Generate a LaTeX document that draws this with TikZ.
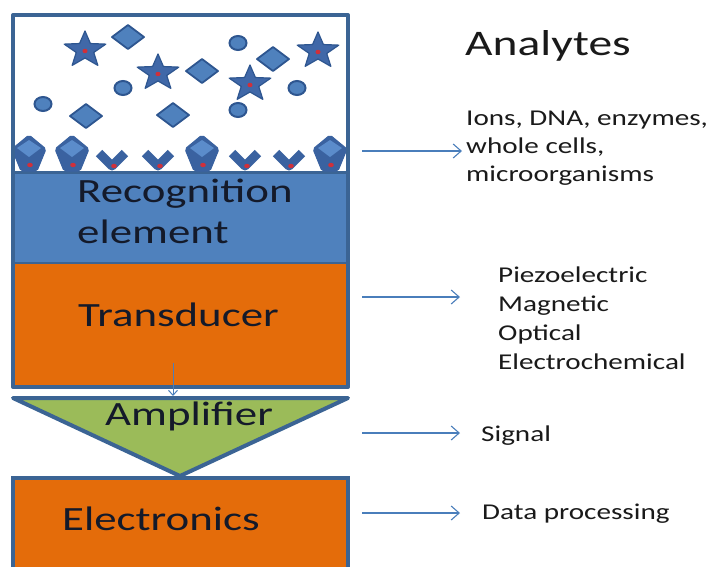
\documentclass[tikz,border=0pt]{standalone}
\usepackage{fontspec}
\setmainfont{Carlito}[FakeStretch=1.32]
\newfontfamily\sidefont{Carlito}[FakeStretch=1.29]
\usetikzlibrary{arrows.meta}
\definecolor{frameblue}{HTML}{3B6494}
\definecolor{recblue}{HTML}{4F81BD}
\definecolor{transorange}{HTML}{E46C0A}
\definecolor{ampgreen}{HTML}{9BBB59}
\definecolor{recdark}{HTML}{3A62A0}
\definecolor{reclight}{HTML}{5B8CCB}
\definecolor{dotred}{HTML}{D0303A}
\definecolor{shapeedge}{HTML}{2E5690}
\definecolor{starfill}{HTML}{4068A8}
\definecolor{arrowblue}{HTML}{4A7EBB}
\definecolor{labeltext}{HTML}{141A2A}
\definecolor{sidetext}{HTML}{1A1A1A}
\newcommand\MyStar[2]{%
  \filldraw[fill=starfill, draw=shapeedge, line width=1.2pt, line join=round, shift={(#1,#2)}, xscale=1.15]
    (-90:19) -- (-54:8) -- (-18:19) -- (18:8) -- (54:19) -- (90:8) -- (126:19) -- (162:8) -- (198:19) -- (234:8) -- cycle;
  \fill[dotred] (#1,#2+1) ellipse[x radius=2.6, y radius=2.2];}
\newcommand\MyDiamond[2]{%
  \filldraw[fill=recblue, draw=shapeedge, line width=1.8pt, line join=round]
    (#1,#2-12) -- (#1+16,#2) -- (#1,#2+12) -- (#1-16,#2) -- cycle;}
\newcommand\MyDot[2]{%
  \filldraw[fill=recblue, draw=shapeedge, line width=2pt] (#1,#2) ellipse[x radius=8.5, y radius=7];}
\newcommand\MyCup[1]{%
  \filldraw[fill=recdark, draw=recdark, line width=1pt, rounded corners=2pt]
    (#1,135) -- (#1+17,149) -- (#1+8,171) -- (#1-8,171) -- (#1-17,149) -- cycle;
  \fill[reclight] (#1,140) -- (#1+12,148) -- (#1,157) -- (#1-12,148) -- cycle;
  \fill[dotred] (#1+1,165) ellipse[x radius=2.8, y radius=2.2];}
\newcommand\MyVee[1]{%
  \draw[recdark, line width=9pt, line join=round] (#1-13,153) -- (#1,166) -- (#1+13,153);
  \fill[dotred] (#1+2,166) ellipse[x radius=2.8, y radius=2.2];}
\tikzset{
  conn/.style={draw=arrowblue, line width=1.1pt, -{Straight Barb[length=8pt, width=14pt, line width=1.1pt]}},
  biglabel/.style={anchor=base west, inner sep=0pt, text=labeltext, font=\fontsize{34}{40}\selectfont},
  sidelabel/.style={anchor=base west, inner sep=0pt, text=sidetext, font=\sidefont\fontsize{22.6}{28}\selectfont},
}
\begin{document}
\begin{tikzpicture}[x=1pt, y=-1pt]
\clip (0,0) rectangle (716,566);
\fill[white] (0,0) rectangle (716,566);
% recognition and transducer fills
\fill[recblue] (13,172) rectangle (348,263);
\fill[transorange] (13,263) rectangle (348,387);
\draw[frameblue, line width=3pt] (13,172) -- (348,172);
\draw[frameblue, line width=1.2pt] (13,263) -- (348,263);
% analytes
\MyStar{85}{50}
\MyStar{158}{73}
\MyStar{250}{84}
\MyStar{318}{51}
\MyDiamond{128}{37}
\MyDiamond{202}{71}
\MyDiamond{273}{59}
\MyDiamond{86}{116}
\MyDiamond{173}{115}
\MyDot{238}{43}
\MyDot{123}{88}
\MyDot{43}{104}
\MyDot{297}{88}
\MyDot{238}{110}
% receptors
\MyCup{29}
\MyCup{72}
\MyVee{112}
\MyVee{158}
\MyCup{202}
\MyVee{245}
\MyVee{289}
\MyCup{330}
% frame
\draw[frameblue, line width=4pt, line join=round] (13,15) rectangle (348,387);
% amplifier
\filldraw[fill=ampgreen, draw=frameblue, line width=4pt, line join=round] (13,398) -- (348,398) -- (180,476) -- cycle;
% electronics
\filldraw[fill=transorange, draw=frameblue, line width=4pt] (13,478) rectangle (348,600);
% labels in boxes
\node[biglabel] (rec1) at (77,202) {Recognition};
\node[biglabel] (rec2) at (77,243) {element};
\node[biglabel] (trans) at (78,326) {Transducer};
\node[biglabel] (amp) at (105,425) {Amplifier};
\node[biglabel] (elec) at (62,530) {Electronics};
% down arrow
\coordinate (dstart) at (173,363);
\coordinate (dend) at (173,396);
\draw[draw=arrowblue, line width=1pt, -{Straight Barb[length=5pt, width=9pt, line width=1pt]}] (dstart) -- (dend);
% right side texts
\node[anchor=base west, inner sep=0pt, text=sidetext, font=\fontsize{36}{42}\selectfont] (analytes) at (465,55) {Analytes};
\node[sidelabel] (ions) at (466,125) {Ions, DNA, enzymes,};
\node[sidelabel] (whole) at (466,153) {whole cells,};
\node[sidelabel] (micro) at (466,181) {microorganisms};
\node[sidelabel] (piezo) at (498,282) {Piezoelectric};
\node[sidelabel] (magn) at (498,311) {Magnetic};
\node[sidelabel] (opt) at (498,340) {Optical};
\node[sidelabel] (echem) at (498,369) {Electrochemical};
\node[sidelabel] (signal) at (481,441) {Signal};
\node[sidelabel] (data) at (482,519) {Data processing};
% arrows
\coordinate (a1s) at (362,151); \coordinate (a1e) at (462,151);
\coordinate (a2s) at (362,297); \coordinate (a2e) at (460,297);
\coordinate (a3s) at (362,433); \coordinate (a3e) at (460,433);
\coordinate (a4s) at (362,513); \coordinate (a4e) at (460,513);
\draw[conn] (a1s) -- (a1e);
\draw[conn] (a2s) -- (a2e);
\draw[conn] (a3s) -- (a3e);
\draw[conn] (a4s) -- (a4e);
\end{tikzpicture}
\end{document}
